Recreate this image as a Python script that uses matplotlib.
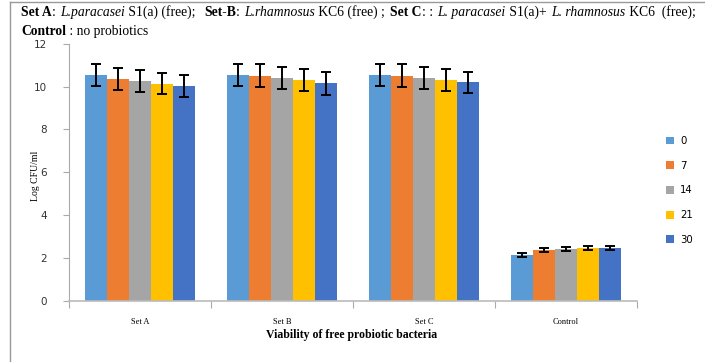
import matplotlib
matplotlib.use("Agg")
import matplotlib.pyplot as plt
import numpy as np
from matplotlib.lines import Line2D
from matplotlib.patches import Patch

categories = ["Set A", "Set B", "Set C", "Control"]
days = ["0", "7", "14", "21", "30"]
values = {
    "0":  [10.55, 10.55, 10.55, 2.13],
    "7":  [10.36, 10.50, 10.50, 2.37],
    "14": [10.27, 10.40, 10.40, 2.42],
    "21": [10.13, 10.30, 10.30, 2.46],
    "30": [10.02, 10.15, 10.20, 2.46],
}
errors = {
    "0":  [0.52, 0.52, 0.52, 0.08],
    "7":  [0.52, 0.53, 0.53, 0.10],
    "14": [0.52, 0.53, 0.53, 0.10],
    "21": [0.50, 0.50, 0.50, 0.10],
    "30": [0.50, 0.55, 0.50, 0.10],
}
colors = ["#5B9BD5", "#ED7D31", "#A5A5A5", "#FFC000", "#4472C4"]

W, H = 705, 362
fig = plt.figure(figsize=(W / 100, H / 100), dpi=100)
ax = fig.add_axes([69 / W, 1 - 300.7 / H, (637 - 69) / W, (300.7 - 43.7) / H])

n = len(days)
group_w = 0.77
bw = group_w / n
x = np.arange(len(categories))
for i, d in enumerate(days):
    pos = x - group_w / 2 + bw * (i + 0.5)
    ax.bar(pos, values[d], width=bw, color=colors[i], zorder=2)
    ax.errorbar(pos, values[d], yerr=errors[d], fmt="none", ecolor="black",
                elinewidth=1.4, capsize=3.5, capthick=1.4, zorder=3)

ax.set_xlim(-0.5, len(categories) - 0.5)
ax.set_ylim(0, 12)
ax.set_yticks(np.arange(0, 13, 2))
ax.set_yticklabels([str(v) for v in range(0, 13, 2)], fontsize=7.5,
                   family="DejaVu Sans", color="#333333")
ax.set_xticks(np.arange(-0.5, len(categories), 1.0))
ax.set_xticklabels([])
ax.tick_params(axis="x", length=5, color="#AAAAAA", width=0.8, direction="out")
ax.tick_params(axis="y", length=4, color="#AAAAAA", width=0.8, direction="out", pad=12)
for s in ["top", "right"]:
    ax.spines[s].set_visible(False)
ax.spines["left"].set_color("#AAAAAA")
ax.spines["bottom"].set_color("#BBBBBB")
ax.spines["bottom"].set_linewidth(1.2)

for xi, c in zip(x, categories):
    ax.text(xi, -0.98, c, ha="center", va="center", fontsize=6,
            family="Liberation Serif", transform=ax.transData)

fig.text(352 / W, 1 - 335 / H, "Viability of free probiotic bacteria",
         ha="center", va="center", fontsize=8.5, fontweight="bold",
         family="Liberation Serif")
fig.text(35 / W, 1 - 176 / H, "Log CFU/ml", rotation=90, ha="center",
         va="center", fontsize=7, family="Liberation Serif")

# legend
handles = [Patch(facecolor=c, edgecolor="none") for c in colors]
leg = fig.legend(handles, days, loc="upper left",
                 bbox_to_anchor=(662 / W, 1 - 132 / H), frameon=False,
                 prop={"family": "DejaVu Sans", "size": 7.3},
                 handlelength=0.8, handleheight=0.8, handletextpad=0.6,
                 labelspacing=1.45, borderaxespad=0)

# header text with mixed styles
line1 = [
    ("Set A", "bold", "normal"), (": ", "normal", "normal"),
    ("L.paracasei", "normal", "italic"), (" S1(a) (free);  ", "normal", "normal"),
    ("Set-B", "bold", "normal"), (": ", "normal", "normal"),
    ("L.rhamnosus", "normal", "italic"), (" KC6 (free) ; ", "normal", "normal"),
    ("Set C", "bold", "normal"), (": : ", "normal", "normal"),
    ("L. paracasei", "normal", "italic"), (" S1(a)+ ", "normal", "normal"),
    ("L. rhamnosus", "normal", "italic"), (" KC6  (free);", "normal", "normal"),
]
line2 = [("Control", "bold", "normal"), (" : no probiotics", "normal", "normal")]

fig.canvas.draw()
renderer = fig.canvas.get_renderer()


def draw_line(pieces, x0, y0, size, target=None):
    texts = []
    widths = []
    for txt, wt, st in pieces:
        t = fig.text(0, 1 - y0 / H, txt, fontsize=size, fontweight=wt,
                     fontstyle=st, family="Liberation Serif", ha="left",
                     va="baseline")
        texts.append(t)
        widths.append(t.get_window_extent(renderer=renderer).width)
    total = sum(widths)
    nsp = sum(txt.count(" ") for txt, _, _ in pieces)
    extra = (target - total) / nsp if (target and nsp) else 0.0
    xp = x0
    for t, w, (txt, _, _) in zip(texts, widths, pieces):
        lead = len(txt) - len(txt.lstrip(" "))
        xp += lead * extra
        t.set_x(xp / W)
        xp += w + (txt.count(" ") - lead) * extra


draw_line(line1, 21, 16, 9.8, target=676)
draw_line(line2, 21, 35, 9.8)

# frame lines
fig.add_artist(Line2D([10 / W, 10 / W], [0, 1 - 2 / H], color="#999999", lw=1.0))
fig.add_artist(Line2D([10 / W, 1], [1 - 2 / H, 1 - 2 / H], color="#999999", lw=1.0))

fig.savefig("out.png", dpi=100)
